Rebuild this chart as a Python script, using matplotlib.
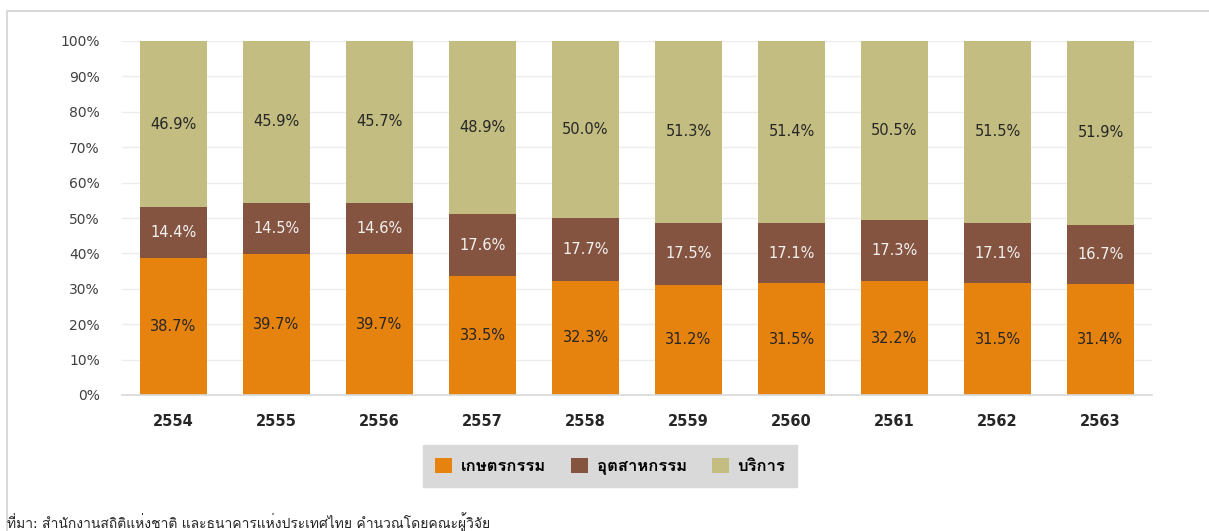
import numpy as np
import matplotlib
matplotlib.use('Agg')
import matplotlib.pyplot as plt
from matplotlib import font_manager
from matplotlib.ft2font import FT2Font
from matplotlib.patches import Rectangle

# ข้อมูล (สัดส่วน % ของ GDP)
years = ['2554', '2555', '2556', '2557', '2558', '2559', '2560', '2561', '2562', '2563']
agri = [38.7, 39.7, 39.7, 33.5, 32.3, 31.2, 31.5, 32.2, 31.5, 31.4]
indus = [14.4, 14.5, 14.6, 17.6, 17.7, 17.5, 17.1, 17.3, 17.1, 16.7]
serv = [46.9, 45.9, 45.7, 48.9, 50.0, 51.3, 51.4, 50.5, 51.5, 51.9]
series_names = ['เกษตรกรรม', 'อุตสาหกรรม', 'บริการ']
source_text = 'ที่มา: สำนักงานสถิติแห่งชาติ และธนาคารแห่งประเทศไทย คำนวณโดยคณะผู้วิจัย'

colors = ['#E6820E', '#855440', '#C3BD82']
label_colors = ['#262626', '#F2F2F2', '#262626']

# หาฟอนต์ที่มีอักษรไทย
thai_fams = []
for f in font_manager.fontManager.ttflist:
    try:
        if FT2Font(f.fname).get_char_index(ord('ก')) and f.name not in thai_fams:
            thai_fams.append(f.name)
    except Exception:
        pass

plt.rcParams['font.family'] = ['DejaVu Sans'] + thai_fams

fig = plt.figure(figsize=(12.09, 5.31), dpi=100)
ax = fig.add_axes([122 / 1209, 1 - 395 / 531, 1030 / 1209, 354 / 531])

x = np.arange(len(years))
bottom = np.zeros(len(years))
for vals, name, col, lcol in zip([agri, indus, serv], series_names, colors, label_colors):
    vals = np.array(vals)
    ax.bar(x, vals, 0.66, bottom=bottom, color=col, label=name, zorder=2)
    for xi, b, v in zip(x, bottom, vals):
        ax.text(xi, b + v / 2, f'{v:.1f}%', ha='center', va='center',
                fontsize=10.5, color=lcol, zorder=3)
    bottom += vals

ax.set_xlim(-0.5, len(years) - 0.5)
ax.set_ylim(0, 100)
ax.set_yticks(np.arange(0, 101, 10))
ax.set_yticklabels([f'{t}%' for t in range(0, 101, 10)], fontsize=10, color='#404040')
ax.set_xticks(x)
ax.set_xticklabels(years, fontsize=10.5, fontweight='bold', color='#262626')
ax.tick_params(axis='both', length=0)
ax.tick_params(axis='y', pad=16)
ax.tick_params(axis='x', pad=14)
ax.grid(axis='y', color='#EDEDED', linewidth=1, zorder=0)
for s in ['top', 'right', 'left']:
    ax.spines[s].set_visible(False)
ax.spines['bottom'].set_color('#D9D9D9')
ax.spines['bottom'].set_linewidth(1.2)

leg = fig.legend(loc='center', bbox_to_anchor=(610 / 1209, 1 - 466 / 531), ncol=3,
                 frameon=True, fancybox=False, framealpha=1, handlelength=1.05,
                 handleheight=1.05, columnspacing=1.5, handletextpad=0.5,
                 borderpad=0.7, prop={'family': ['DejaVu Sans'] + thai_fams,
                                      'weight': 'bold', 'size': 12})
leg.get_frame().set_facecolor('#D9D9D9')
leg.get_frame().set_edgecolor('#D9D9D9')

fig.text(7 / 1209, 1 - 522 / 531, source_text, fontsize=10, color='#262626', va='center')

fig.patches.append(Rectangle((7 / 1209, -0.1), 1.1, 1 - 11 / 531 + 0.1, transform=fig.transFigure,
                             fill=False, edgecolor='#D9D9D9', linewidth=1.5))

fig.savefig('out.png', dpi=100)
